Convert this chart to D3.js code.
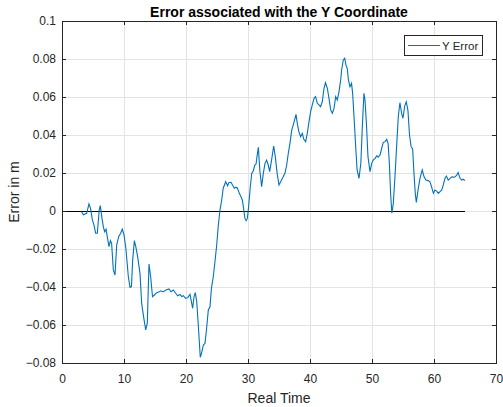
<!DOCTYPE html>
<html>
<head>
<meta charset="utf-8">
<script src="https://cdn.jsdelivr.net/npm/d3@7"></script>
<style>
  body { margin: 0; background: #fff; }
  text { font-family: "Liberation Sans", Arial, sans-serif; fill: #262626; }
</style>
</head>
<body>
<script>
// values
var time = [3.17, 3.44, 3.98, 4.35, 4.6, 4.9, 5.16, 5.43, 5.7, 6.0, 6.18, 6.45, 6.67, 6.88, 7.1, 7.3, 7.58, 7.8, 8.0, 8.28,
  8.55, 8.82, 9.14, 9.46, 9.73, 10.0, 10.3, 10.7, 10.97, 11.2, 11.4, 11.67, 11.9, 12.2, 12.58, 12.85, 13.2, 13.5, 13.76, 14.03,
  14.3, 14.6, 14.9, 15.27, 15.6, 15.97, 16.3, 16.77, 17.26, 17.58, 17.95, 18.34, 18.66, 19.03, 19.3, 19.56, 19.95, 20.27, 20.65, 20.9,
  21.07, 21.3, 21.5, 21.73, 22.0, 22.3, 22.5, 22.8, 23.06, 23.3, 23.6, 23.87, 24.1, 24.4, 24.7, 24.95, 25.2, 25.48, 25.76, 26.0,
  26.4, 26.72, 26.9, 27.26, 27.5, 27.8, 28.06, 28.3, 28.6, 28.87, 29.08, 29.25, 29.5, 29.7, 29.9, 30.1, 30.37, 30.6, 30.86, 31.1,
  31.3, 31.45, 31.67, 31.9, 32.2, 32.47, 32.74, 33.0, 33.27, 33.5, 33.8, 34.14, 34.4, 34.7, 35.0, 35.27, 35.6, 35.97, 36.24, 36.5,
  36.77, 37.05, 37.3, 37.58, 37.74, 37.95, 38.2, 38.5, 38.76, 39.0, 39.3, 39.56, 39.84, 40.1, 40.37, 40.65, 40.9, 41.18, 41.45, 41.7,
  41.98, 42.26, 42.5, 42.8, 43.06, 43.34, 43.6, 43.87, 44.14, 44.4, 44.68, 44.95, 45.1, 45.37, 45.6, 45.8, 46.0, 46.2, 46.45, 46.7,
  46.88, 47.1, 47.4, 47.6, 47.9, 48.2, 48.44, 48.7, 48.87, 49.1, 49.35, 49.68, 49.95, 50.2, 50.5, 50.76, 51.0, 51.3, 51.56, 51.8,
  52.1, 52.37, 52.6, 52.8, 53.0, 53.2, 53.44, 53.7, 54.0, 54.24, 54.5, 54.8, 55.0, 55.27, 55.53, 55.8, 56.05, 56.3, 56.56, 56.77,
  56.98, 57.15, 57.47, 57.74, 58.1, 58.4, 58.7, 59.08, 59.35, 59.6, 59.9, 60.16, 60.43, 60.7, 60.97, 61.24, 61.5, 61.77, 62.0, 62.3,
  62.6, 62.85, 63.1, 63.4, 63.66, 63.9, 64.2, 64.47, 64.7, 65.0];
var yError = [-0.0004, -0.002, -0.0012, 0.0037, 0.0014, -0.0047, -0.0074, -0.0117, -0.0117, 0.0005, 0.0028, -0.0039, -0.0083, -0.0109, -0.0096, -0.0135, -0.0188, -0.0156, -0.017, -0.031,
  -0.0337, -0.0179, -0.0135, -0.0117, -0.0096, -0.0126, -0.0196, -0.0346, -0.0402, -0.0398, -0.0258, -0.0156, -0.0188, -0.024, -0.0328, -0.0486, -0.0565, -0.0626, -0.059, -0.0279,
  -0.0346, -0.0451, -0.0442, -0.043, -0.0426, -0.042, -0.0426, -0.0416, -0.041, -0.0425, -0.0416, -0.0433, -0.0446, -0.0439, -0.045, -0.0446, -0.046, -0.0456, -0.0439, -0.0482,
  -0.0512, -0.045, -0.043, -0.0477, -0.0609, -0.077, -0.0749, -0.0705, -0.0697, -0.0626, -0.0521, -0.0504, -0.0407, -0.0346, -0.0258, -0.018, -0.008, 0.0005, 0.0058, 0.012,
  0.0154, 0.0132, 0.0149, 0.0151, 0.0137, 0.012, 0.0125, 0.012, 0.0093, 0.0075, 0.0058, 0.0023, -0.0039, -0.0051, -0.0039, 0.0023, 0.0128, 0.0198, 0.0212, 0.0242,
  0.0247, 0.0286, 0.0335, 0.0216, 0.0128, 0.0198, 0.0251, 0.0268, 0.0242, 0.0207, 0.0268, 0.0342, 0.0286, 0.0198, 0.0137, 0.0154, 0.0175, 0.02, 0.0242, 0.0304,
  0.0356, 0.0426, 0.0453, 0.0488, 0.0509, 0.0461, 0.0418, 0.0391, 0.0409, 0.0377, 0.0365, 0.0409, 0.047, 0.0523, 0.0558, 0.0593, 0.0602, 0.0567, 0.0558, 0.0549,
  0.0575, 0.0646, 0.0675, 0.0646, 0.0593, 0.0532, 0.0514, 0.054, 0.0602, 0.0584, 0.0628, 0.069, 0.0742, 0.0795, 0.0804, 0.0768, 0.0751, 0.069, 0.0654, 0.0672,
  0.0619, 0.0496, 0.0321, 0.0216, 0.0172, 0.0251, 0.0444, 0.0619, 0.0584, 0.0461, 0.0286, 0.0207, 0.0251, 0.0268, 0.0277, 0.029, 0.0283, 0.0295, 0.033, 0.036,
  0.0365, 0.0377, 0.0356, 0.0251, 0.0093, -0.0012, 0.004, 0.018, 0.0356, 0.0496, 0.057, 0.051, 0.0488, 0.0552, 0.0575, 0.0528, 0.04, 0.034, 0.0325, 0.0198,
  0.0093, 0.0045, 0.012, 0.0172, 0.0216, 0.018, 0.0163, 0.016, 0.0154, 0.0128, 0.0093, 0.011, 0.0105, 0.0093, 0.0102, 0.011, 0.0137, 0.0172, 0.0184, 0.0163,
  0.0172, 0.018, 0.0177, 0.018, 0.0189, 0.0202, 0.0172, 0.0163, 0.0167, 0.016];
var xTicks = [0, 10, 20, 30, 40, 50, 60, 70];
var yTicks = [-0.08, -0.06, -0.04, -0.02, 0, 0.02, 0.04, 0.06, 0.08, 0.1];
var zeroLine = [0, 65];

drawChart();

function drawChart() {
  var svg = d3.select('body').append('svg')
    .attr('width', 503).attr('height', 407);

  var mLeft = 62, mRight = 496, mTop = 21, mBottom = 363;
  var x = d3.scaleLinear().domain([0, 70]).range([mLeft, mRight]);
  var y = d3.scaleLinear().domain([-0.08, 0.1]).range([mBottom, mTop]);

  // grid
  svg.append('g').selectAll('line').data(xTicks.slice(1, -1)).enter().append('line')
    .attr('x1', function(d) { return x(d); }).attr('x2', function(d) { return x(d); })
    .attr('y1', mTop).attr('y2', mBottom)
    .attr('stroke', '#e3e3e3').attr('stroke-width', 1)
    .attr('shape-rendering', 'crispEdges');
  svg.append('g').selectAll('line').data(yTicks.slice(1, -1)).enter().append('line')
    .attr('y1', function(d) { return y(d); }).attr('y2', function(d) { return y(d); })
    .attr('x1', mLeft).attr('x2', mRight)
    .attr('stroke', '#e3e3e3').attr('stroke-width', 1)
    .attr('shape-rendering', 'crispEdges');

  // zero reference line
  svg.append('line')
    .attr('x1', x(zeroLine[0])).attr('x2', x(zeroLine[1]))
    .attr('y1', y(0)).attr('y2', y(0))
    .attr('stroke', '#000').attr('stroke-width', 1)
    .attr('shape-rendering', 'crispEdges');

  // error curve
  var line = d3.line()
    .x(function(d, i) { return x(time[i]); })
    .y(function(d) { return y(d); });
  svg.append('path').datum(yError)
    .attr('d', line)
    .attr('fill', 'none')
    .attr('stroke', '#0072BD')
    .attr('stroke-width', 1.1);

  // axes, ticks inside on all four sides
  var fmtY = function(d) { return d === 0 ? '0' : d3.format('.2~f')(d); };
  svg.append('g').attr('transform', 'translate(0,' + mBottom + ')')
    .call(d3.axisBottom(x).tickValues(xTicks).tickSizeInner(-4).tickSizeOuter(0).tickPadding(11));
  svg.append('g').attr('transform', 'translate(0,' + mTop + ')')
    .call(d3.axisTop(x).tickValues(xTicks).tickSizeInner(-4).tickSizeOuter(0).tickFormat(''));
  svg.append('g').attr('transform', 'translate(' + mLeft + ',0)')
    .call(d3.axisLeft(y).tickValues(yTicks).tickSizeInner(-4).tickSizeOuter(0).tickPadding(6).tickFormat(fmtY));
  svg.append('g').attr('transform', 'translate(' + mRight + ',0)')
    .call(d3.axisRight(y).tickValues(yTicks).tickSizeInner(-4).tickSizeOuter(0).tickFormat(''));

  svg.selectAll('.domain').attr('stroke', '#262626').attr('shape-rendering', 'crispEdges');
  svg.selectAll('.tick line').attr('stroke', '#262626').attr('shape-rendering', 'crispEdges');
  svg.selectAll('.tick text')
    .style('font-family', '"Liberation Sans", Arial, sans-serif')
    .style('font-size', '12px').attr('fill', '#262626');

  // titles
  svg.append('text')
    .attr('x', (mLeft + mRight) / 2).attr('y', 17)
    .attr('text-anchor', 'middle')
    .style('font-size', '14px').style('font-weight', 'bold')
    .style('fill', '#000')
    .text('Error associated with the Y Coordinate');
  svg.append('text')
    .attr('x', (mLeft + mRight) / 2).attr('y', 403)
    .attr('text-anchor', 'middle')
    .style('font-size', '14px')
    .text('Real Time');
  svg.append('text')
    .attr('transform', 'translate(19,' + (mTop + mBottom) / 2 + ') rotate(-90)')
    .attr('text-anchor', 'middle')
    .style('font-size', '14px')
    .text('Error in m');

  // legend
  var lg = svg.append('g');
  lg.append('rect')
    .attr('x', 404.5).attr('y', 35.5).attr('width', 78).attr('height', 20)
    .attr('fill', '#fff').attr('stroke', '#262626').attr('stroke-width', 1);
  lg.append('line')
    .attr('x1', 408).attr('x2', 440).attr('y1', 45.5).attr('y2', 45.5)
    .attr('stroke', '#0072BD').attr('stroke-width', 1);
  lg.append('text')
    .attr('x', 442).attr('y', 49.5)
    .style('font-size', '11.5px')
    .text('Y Error');
}
</script>
</body>
</html>
